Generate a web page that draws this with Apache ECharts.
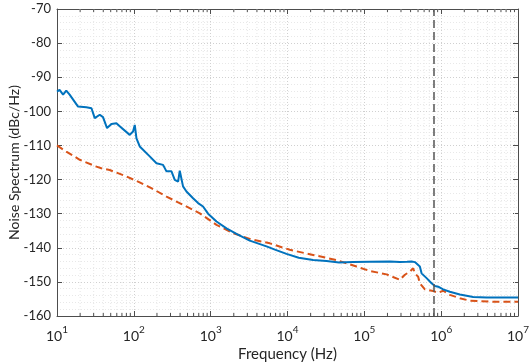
<!DOCTYPE html>
<html>
<head>
<meta charset="utf-8">
<script src="https://cdn.jsdelivr.net/npm/echarts@6/dist/echarts.min.js"></script>
<style>
html,body{margin:0;padding:0;background:#fff;}
#chart{width:532px;height:363px;}
</style>
</head>
<body>
<div id="chart"></div>
<script>
// Blue solid trace: [frequency (Hz), noise (dBc/Hz)]
var blueFreq = [10, 10.8, 12, 13.2, 14.6, 18.8, 24.1, 28.1, 31, 36, 39.7, 44.8, 51.1, 59.3, 65.5, 88.4, 97.7, 102.8, 108.2, 119.4, 161, 197, 240, 266, 309, 318, 341, 377, 396, 417, 437, 484, 590, 686, 796, 925, 1191, 1607, 2168, 3230, 5330, 7000, 9710, 14000, 21530, 32200, 47000, 71450, 118000, 215000, 290000, 360000, 412000, 455000, 478000, 528000, 556000, 646000, 750000, 828000, 914000, 962000, 1062000, 1297000, 1750000, 2610000, 3900000, 10000000];
var blueVal  = [-94.2, -93.7, -95.1, -93.9, -95.1, -98.6, -98.8, -99.1, -102.0, -101.0, -101.7, -104.9, -103.7, -103.5, -104.4, -106.9, -105.9, -104.0, -107.9, -110.3, -113.2, -115.2, -115.7, -117.6, -117.6, -117.4, -120.1, -120.6, -117.4, -117.2, -122.0, -123.5, -125.5, -126.9, -127.9, -130.0, -132.3, -134.3, -135.9, -137.9, -139.6, -140.6, -141.8, -142.9, -143.6, -143.9, -144.3, -144.2, -144.1, -144.0, -144.2, -144.1, -144.0, -144.2, -143.8, -145.5, -147.5, -148.9, -150.4, -151.2, -151.4, -151.0, -152.2, -152.9, -153.7, -154.4, -154.6, -154.6];

// Orange dashed trace
var orangeFreq = [10, 13.2, 19.8, 32.6, 37.8, 48.5, 80.2, 113.5, 169, 266, 437, 722, 1191, 1960, 3230, 5890, 10720, 21530, 43450, 79100, 118000, 194600, 290000, 305000, 337000, 391000, 432000, 455000, 502000, 528000, 614000, 787000, 914000, 1062000, 1297000, 1750000, 2360000, 4300000, 10000000];
var orangeVal  = [-110.0, -111.8, -114.2, -116.2, -116.7, -117.2, -119.1, -120.6, -122.5, -125.0, -127.4, -129.9, -133.3, -135.7, -137.4, -138.7, -140.6, -142.1, -143.6, -145.5, -146.8, -147.8, -149.4, -149.6, -147.9, -147.0, -146.0, -147.5, -148.5, -150.4, -152.2, -152.7, -153.2, -152.6, -153.8, -154.8, -155.5, -155.8, -155.8];

// Vertical marker frequency
var markerFreq = 800000;

// Axis settings
var xMin = 10, xMax = 1e7;
var yMin = -160, yMax = -70, yStep = 10;
var decades = [10, 100, 1000, 10000, 100000, 1000000];
var minorMult = [2, 3, 4, 5, 6, 7, 8, 9];

var FONT = 'Lato';
var TXT = '#262626';
var AX = '#4d4d4d';

function pairs(xs, ys){ var o=[]; for(var i=0;i<xs.length;i++) o.push([xs[i], ys[i]]); return o; }
var minorTicks = [];
decades.forEach(function(d){ minorMult.forEach(function(m){ minorTicks.push([d*m]); }); });

function expLabel(v){
  var e = Math.round(Math.log(v)/Math.LN10);
  return '{b|10}{s|' + e + '}';
}

var chart = echarts.init(document.getElementById('chart'), null, {renderer:'canvas'});
chart.setOption({
  backgroundColor:'#fff',
  animation:false,
  grid:{left:57, right:14, top:9, bottom:47, containLabel:false, outerBoundsMode:'none'},
  xAxis:[{
    type:'log', logBase:10, min:xMin, max:xMax, position:'bottom',
    name:'Frequency (Hz)', nameLocation:'middle', nameGap:31, nameMoveOverlap:false,
    nameTextStyle:{fontFamily:FONT, fontSize:15, color:TXT},
    axisLine:{show:true, lineStyle:{color:AX, width:1}},
    axisTick:{show:true, inside:true, length:5, lineStyle:{color:AX}},
    axisLabel:{margin:9, formatter:expLabel, rich:{
      b:{fontFamily:FONT, fontSize:14, color:TXT, verticalAlign:'bottom'},
      s:{fontFamily:FONT, fontSize:10, color:TXT, verticalAlign:'bottom', padding:[0,0,8,0]}
    }},
    splitLine:{show:true, lineStyle:{color:'#d0d0d0', type:[1,2], width:1}},
    minorTick:{show:false}, minorSplitLine:{show:false}
  },{
    type:'log', logBase:10, min:xMin, max:xMax, position:'top',
    axisLine:{show:true, lineStyle:{color:AX, width:1}},
    axisTick:{show:true, inside:true, length:5, lineStyle:{color:AX}},
    axisLabel:{show:false}, splitLine:{show:false}
  }],
  yAxis:[{
    type:'value', min:yMin, max:yMax, interval:yStep, position:'left',
    name:'Noise Spectrum (dBc/Hz)', nameLocation:'middle', nameGap:36, nameMoveOverlap:false,
    nameTextStyle:{fontFamily:FONT, fontSize:14, color:TXT},
    axisLine:{show:true, lineStyle:{color:AX, width:1}},
    axisTick:{show:true, inside:true, length:5, lineStyle:{color:AX}},
    axisLabel:{fontFamily:FONT, fontSize:13, color:TXT, margin:6},
    splitLine:{show:true, lineStyle:{color:'#d0d0d0', type:[1,2], width:1}},
    minorTick:{show:false, splitNumber:5},
    minorSplitLine:{show:true, lineStyle:{color:'#e8e8e8', type:[1,2], width:1}}
  },{
    type:'value', min:yMin, max:yMax, interval:yStep, position:'right',
    axisLine:{show:true, lineStyle:{color:AX, width:1}},
    axisTick:{show:true, inside:true, length:5, lineStyle:{color:AX}},
    axisLabel:{show:false}, splitLine:{show:false}
  }],
  series:[{
    type:'custom', name:'minor', xAxisIndex:0, yAxisIndex:0, z:1, silent:true,
    data:minorTicks,
    renderItem:function(params, api){
      var f = api.value(0);
      var t = api.coord([f, yMax]);
      var b = api.coord([f, yMin]);
      return {type:'group', children:[
        {type:'line', shape:{x1:t[0],y1:t[1],x2:b[0],y2:b[1]}, style:{stroke:'#e6e6e6', lineWidth:1, lineDash:[1,2]}},
        {type:'line', shape:{x1:b[0],y1:b[1],x2:b[0],y2:b[1]-3}, style:{stroke:AX, lineWidth:1}},
        {type:'line', shape:{x1:t[0],y1:t[1],x2:t[0],y2:t[1]+3}, style:{stroke:AX, lineWidth:1}}
      ]};
    }
  },{
    type:'line', name:'orange', data:pairs(orangeFreq, orangeVal), showSymbol:false, z:3,
    lineStyle:{color:'#D95319', width:2, type:[7,4]}
  },{
    type:'line', name:'blue', data:pairs(blueFreq, blueVal), showSymbol:false, z:4,
    lineStyle:{color:'#0072BD', width:2},
    markLine:{silent:true, symbol:['none','none'], label:{show:false},
      lineStyle:{color:'#555', type:[8,4], width:1.5},
      data:[{xAxis:markerFreq}]}
  }]
});
</script>
</body>
</html>
